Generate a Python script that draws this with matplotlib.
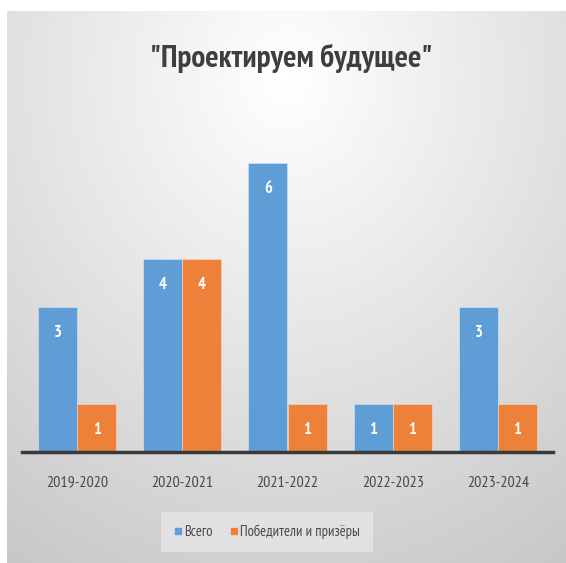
import numpy as np
import matplotlib
matplotlib.use("Agg")
import matplotlib.pyplot as plt
from matplotlib.lines import Line2D

# data
seasons = ["2019-2020", "2020-2021", "2021-2022", "2022-2023", "2023-2024"]
total = [3, 4, 6, 1, 3]
winners = [1, 4, 1, 1, 1]
series_names = ["Всего", "Победители и призёры"]
title = "\"Проектируем будущее\""

BLUE = "#5f9dd7"
ORANGE = "#ee8139"
TEXT = "#484848"

plt.rcParams["font.family"] = ["PT Sans Narrow", "DejaVu Sans"]

W, H = 566, 563
fig = plt.figure(figsize=(W / 100, H / 100), dpi=100)
fig.patch.set_facecolor("white")

# radial grey gradient behind the chart (light at top centre)
bg = fig.add_axes([7 / W, 0, (W - 7) / W, (H - 11) / H], zorder=-10)
yy, xx = np.mgrid[0:1:300j, 0:1:300j]
d = np.sqrt(((xx - 0.5) / 1.0) ** 2 + ((yy - 0.12) / 1.15) ** 2)
shade = np.clip(1.0 - 0.24 * d, 0, 1)
bg.imshow(shade, cmap="gray", vmin=0, vmax=1, aspect="auto",
          extent=[0, 1, 1, 0], interpolation="bicubic")
bg.axis("off")

ax = fig.add_axes([22 / W, (H - 452) / H, 531 / W, 337.4 / H])
ax.set_facecolor("none")
x = np.arange(len(seasons))
w = 0.37
off = 0.186
b1 = ax.bar(x - off, total, w, color=BLUE, edgecolor="#dbe8f5", linewidth=0.4)
b2 = ax.bar(x + off, winners, w, color=ORANGE, edgecolor="#f8dcc8", linewidth=0.4)

for bars, vals in ((b1, total), (b2, winners)):
    for rect, v in zip(bars, vals):
        ax.annotate(str(v), (rect.get_x() + rect.get_width() / 2, v),
                    xytext=(0, -26), textcoords="offset pixels",
                    ha="center", va="center", color="white",
                    fontsize=12, fontweight="bold")

ax.set_xlim(-0.523, 4.523)
ax.set_ylim(0, 7)
ax.set_yticks([])
ax.set_xticks(x, seasons)
ax.tick_params(axis="x", length=0, pad=17, labelsize=11.5, labelcolor=TEXT)
for s in ("top", "right", "left"):
    ax.spines[s].set_visible(False)
ax.spines["bottom"].set_color("#3a3a3a")
ax.spines["bottom"].set_linewidth(2.5)

fig.text(291 / W, 1 - 58 / H, title, ha="center", va="center",
         fontsize=22.5, fontweight="bold", color="#3e3e3e")

handles = [Line2D([], [], marker="s", linestyle="none", color=c, markersize=5)
           for c in (BLUE, ORANGE)]
leg = fig.legend(handles, series_names, loc="center", ncol=2,
                 bbox_to_anchor=(267 / W, 1 - 532 / H), frameon=True,
                 fontsize=10.5, handlelength=0.5, handletextpad=0.2,
                 columnspacing=1.2, borderpad=0.9, fancybox=False)
leg.get_frame().set_facecolor("#ececec")
leg.get_frame().set_edgecolor("none")
leg.get_frame().set_alpha(0.6)
for t in leg.get_texts():
    t.set_color(TEXT)

fig.savefig("out.png", dpi=100)
